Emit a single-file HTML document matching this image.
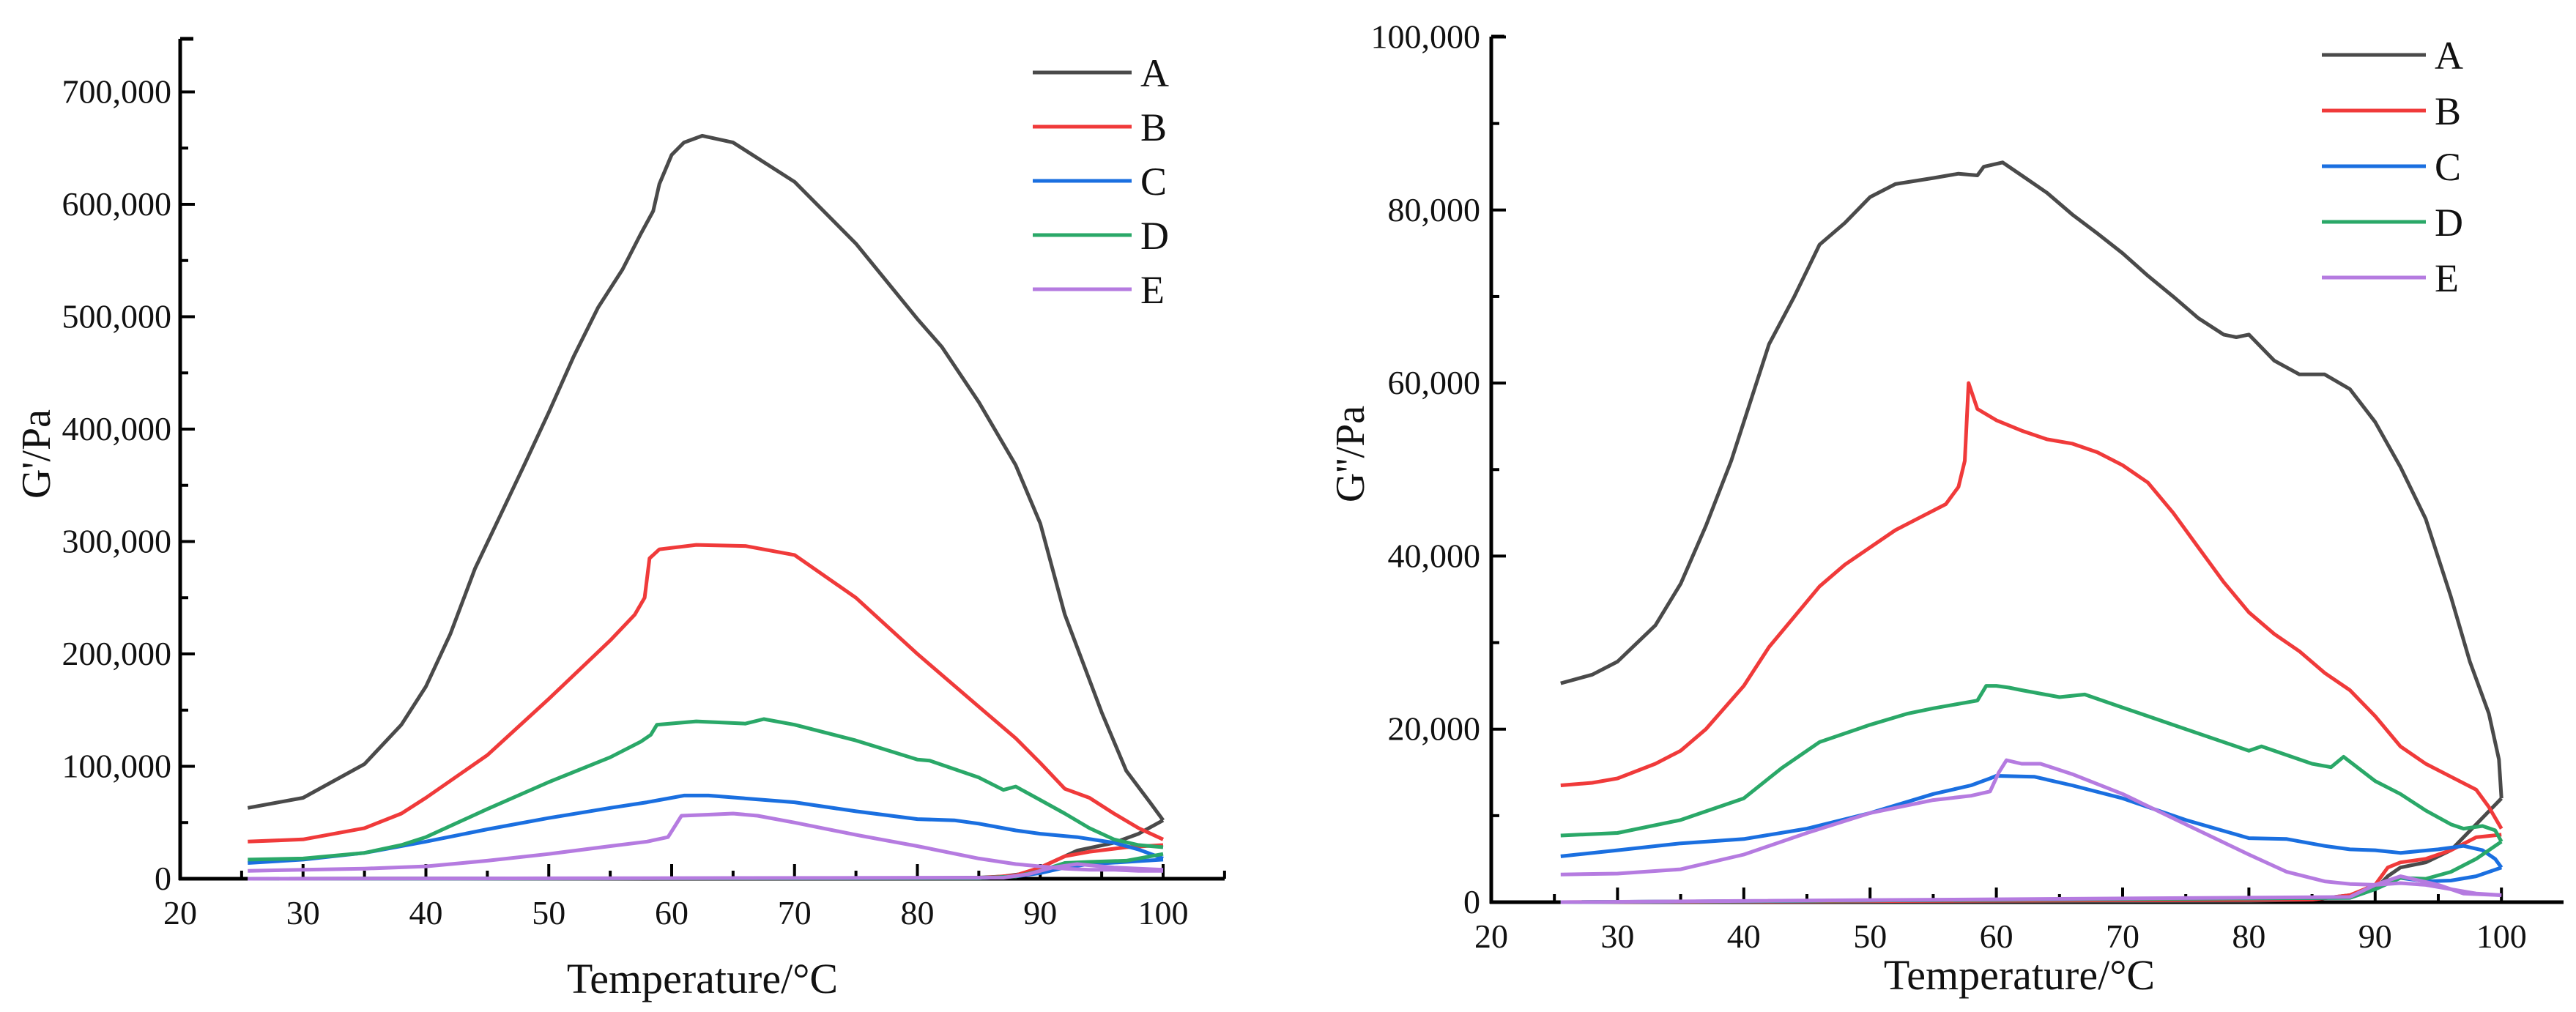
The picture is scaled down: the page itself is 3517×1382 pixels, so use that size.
<!DOCTYPE html>
<html><head><meta charset="utf-8">
<style>
html,body{margin:0;padding:0;background:#fff;}
svg{display:block;}
text{font-family:"Liberation Serif","Times New Roman",serif;fill:#111;}
</style></head>
<body>
<svg id="fig" width="3517" height="1382" viewBox="0 0 3517 1382" xmlns="http://www.w3.org/2000/svg"></svg>
<script>
// ---------- shared data ----------
const seriesNames = ["A","B","C","D","E"];
const seriesColors = ["#4a4a4a","#f03a3a","#1a6fe0","#2aa868","#b57be0"];
const xTicks = [20,30,40,50,60,70,80,90,100];

// ---------- Left chart: G' (units of 1000 Pa) ----------
const gpA_T = [25.5,30,35,38,40,42,44,46,48,50,52,54,56,57.5,58.5,59,60,61,62.5,65,70,75,80,82,85,88,90,92,95,97,99,100];
const gpA_V = [63,72,102,137,171,218,276,322,368,415,464,508,542,574,594,618,644,655,661,655,620,565,498,473,424,368,316,235,148,96,67,52];
const gpB_T = [25.5,30,35,38,40,45,50,55,57,57.8,58.2,59,62,66,70,75,80,85,88,90,92,94,96,98,100];
const gpB_V = [33,35,45,58,72,110,160,212,235,250,285,293,297,296,288,250,200,153,125,103,80,72,58,45,35];
const gpC_T = [25.5,30,35,40,45,50,55,58,59.5,61,63,70,75,80,83,85,88,90,93,96,98,100];
const gpC_V = [14,17,23,33,44,54,63,68,71,74,74,68,60,53,52,49,43,40,37,32,26,18];
const gpD_T = [25.5,30,35,38,40,45,50,55,57.5,58.3,58.8,62,66,67.5,70,75,80,81,85,87,88,90,92,94,96,98,100];
const gpD_V = [17,18,23,30,37,62,86,108,122,128,137,140,138,142,137,123,106,105,90,79,82,70,58,45,35,30,28];
const gpE_T = [25.5,30,35,40,45,50,55,58,59.7,60.8,63,65,67,70,75,80,85,88,90,92,94,96,98,100];
const gpE_V = [7,8,9,11,16,22,29,33,37,56,57,58,56,50,39,29,18,13,11,9,8,8,7,7];
// cooling branches (100 -> 25)
const gpA_cT = [100,98,96,93,91,89,87,85,80,25.5];
const gpA_cV = [52,40,32,25,15,5,2,1,0.5,0];
const gpB_cT = [100,97,94,92,90,88,85,25.5];
const gpB_cV = [30,28,24,20,10,3,0.5,0];
const gpC_cT = [100,97,94,92,90,88,85,25.5];
const gpC_cV = [17,15,13,10,5,2,0.5,0];
const gpD_cT = [100,97,94,92,90,88,85,25.5];
const gpD_cV = [22,16,15,14,7,2,0.5,0];
const gpE_cT = [100,96,93,91,89,87,25.5];
const gpE_cV = [8,10,13,10,4,1,0];
const gpYTicks = [0,100,200,300,400,500,600,700];

// ---------- Right chart: G'' (units of 1000 Pa) ----------
const gppA_T = [25.5,28,30,33,35,37,39,40,42,44,46,48,50,52,55,57,58.5,59,60.5,62,64,66,68,70,72,74,76,78,79,80,82,84,86,88,90,92,94,96,97.5,99,99.8,100];
const gppA_V = [25.3,26.3,27.8,32,36.8,43.5,51,55.5,64.5,70,76,78.5,81.5,83,83.7,84.2,84,85,85.5,84,82,79.5,77.3,75,72.4,70,67.5,65.6,65.3,65.6,62.6,61,61,59.3,55.5,50.3,44.3,35.3,27.8,21.8,16.5,12];
const gppB_T = [25.5,28,30,33,35,37,40,42,44,46,48,50,52,54,56,57,57.5,57.8,58.5,60,62,64,66,68,70,72,74,76,78,80,82,84,86,88,90,92,94,96,98,99,100];
const gppB_V = [13.5,13.8,14.3,16,17.5,20,25,29.5,33,36.5,39,41,43,44.5,46,48,51,60,57,55.7,54.5,53.5,53,52,50.5,48.5,45,41,37,33.5,31,29,26.5,24.5,21.5,18,16,14.5,13,11,8.5];
const gppC_T = [25.5,30,35,40,45,50,55,58,59.5,60,63,66,70,75,80,83,86,88,90,92,95,97,98.5,99.5,100];
const gppC_V = [5.3,6,6.8,7.3,8.5,10.3,12.5,13.5,14.3,14.6,14.5,13.5,12,9.5,7.4,7.3,6.5,6.1,6,5.7,6.1,6.5,6,5,4];
const gppD_T = [25.5,30,35,40,43,46,50,53,55,58.5,59.2,60,61,62,65,67,70,75,80,81,85,86.5,87.5,90,92,94,96,97,98.5,99.5,100];
const gppD_V = [7.7,8,9.5,12,15.5,18.5,20.5,21.8,22.4,23.3,25,25,24.8,24.5,23.7,24,22.5,20,17.5,18,16,15.6,16.8,14,12.5,10.6,9,8.5,8.8,8.3,7];
const gppE_T = [25.5,30,35,40,45,50,55,58,59.5,60.2,60.8,62,63.5,66,70,75,80,83,86,88,90,92,94,96,98,100];
const gppE_V = [3.2,3.3,3.8,5.5,8,10.3,11.8,12.3,12.8,15,16.4,16,16,14.8,12.5,9,5.5,3.5,2.4,2.1,2,2.2,2,1.5,1,0.8];
const gppA_cT = [100,98,96,94,92,91,90,88,85,80,25.5];
const gppA_cV = [12,9,6,4.6,4,3,1.5,0.8,0.3,0.15,0];
const gppB_cT = [100,98,96,94,92,91,90,88,85,25.5];
const gppB_cV = [7.8,7.5,6,5,4.6,4,2,0.8,0.3,0];
const gppC_cT = [100,98,96,94,92,90,88,25.5];
const gppC_cV = [4,3,2.5,2.4,2.8,1.5,0.5,0];
const gppD_cT = [100,98,96,94,92,90,88,25.5];
const gppD_cV = [7,5,3.5,2.7,2.8,1.5,0.5,0];
const gppE_cT = [100,97,95,92,90,88,25.5];
const gppE_cV = [0.8,1,2,3,2,0.6,0];
const gppYTicks = [0,20,40,60,80,100];

const NS = "http://www.w3.org/2000/svg";
const svg = document.getElementById("fig");
function mk(tag, attrs, parent){
  const e = document.createElementNS(NS, tag);
  for (const k in attrs) e.setAttribute(k, attrs[k]);
  (parent||svg).appendChild(e);
  return e;
}
function fmt(v){ return (v*1000).toLocaleString("en-US"); }

function chart(cfg){
  const g = mk("g", {});
  
  
  const xs = t => cfg.x0 + (t-20)/10*cfg.xStep;
  const ys = v => cfg.y0 - v/cfg.yUnit*cfg.yStep;
  // axes
  const ya = mk("line",{x1:cfg.x0,y1:cfg.yTop,x2:cfg.x0,y2:cfg.y0+2,stroke:"#000","stroke-width":5},g);
  
  
  const xa = mk("line",{x1:cfg.x0-2,y1:cfg.y0,x2:cfg.xEnd,y2:cfg.y0,stroke:"#000","stroke-width":5},g);
  
  
  mk("line",{x1:cfg.x0,y1:cfg.yTop,x2:cfg.x0+18,y2:cfg.yTop,stroke:"#000","stroke-width":5},g);
  // x ticks
  xTicks.forEach(t=>{
    const x = xs(t);
    mk("line",{x1:x,y1:cfg.y0,x2:x,y2:cfg.y0-20,stroke:"#000","stroke-width":4},g);
    const tx = mk("text",{x:x,y:cfg.xLabY,"text-anchor":"middle","font-size":46},g);
    tx.textContent = t;
    
    
    if (t<100 || cfg.xEnd > xs(104)) {
      const xm = xs(t+5);
      if (xm < cfg.xEnd) mk("line",{x1:xm,y1:cfg.y0,x2:xm,y2:cfg.y0-11,stroke:"#000","stroke-width":4},g);
    }
  });
  // y ticks
  cfg.yTicks.forEach((v,i)=>{
    const y = ys(v);
    mk("line",{x1:cfg.x0,y1:y,x2:cfg.x0+20,y2:y,stroke:"#000","stroke-width":4},g);
    const ty = mk("text",{x:cfg.yLabX,y:y+15,"text-anchor":"end","font-size":46},g);
    ty.textContent = v===0 ? "0" : fmt(v);
    
    
    const ym = ys(v+cfg.yUnit/2);
    if (ym > cfg.yTop+2) mk("line",{x1:cfg.x0,y1:ym,x2:cfg.x0+11,y2:ym,stroke:"#000","stroke-width":4},g);
  });
  // axis titles
  const xt = mk("text",{x:cfg.xTitleX,y:cfg.xTitleY,"text-anchor":"middle","font-size":58},g);
  xt.textContent = "Temperature/\u00B0C";
  
  
  const yt = mk("text",{x:0,y:0,"text-anchor":"middle","font-size":56,transform:`translate(${cfg.yTitleX},${cfg.yTitleY}) rotate(-90)`},g);
  yt.textContent = cfg.yTitle;
  
  
  // series
  cfg.series.forEach((s,i)=>{
    const path = (T,V) => T.map((t,j)=>(j?"L":"M")+xs(t).toFixed(1)+","+ys(V[j]).toFixed(1)).join(" ");
    const pc = mk("path",{d:path(s.cT,s.cV),fill:"none",stroke:seriesColors[i],"stroke-width":5,"stroke-linejoin":"round"},g);
    
    
    const ph = mk("path",{d:path(s.T,s.V),fill:"none",stroke:seriesColors[i],"stroke-width":5,"stroke-linejoin":"round"},g);
    
    
    // legend
    const ly = cfg.legY[0] + i*cfg.legDy;
    const lg = mk("g",{},g);
    
    
    mk("line",{x1:cfg.legX1,y1:ly,x2:cfg.legX2,y2:ly,stroke:seriesColors[i],"stroke-width":5},lg);
    const lt = mk("text",{x:cfg.legX2+12,y:ly+19,"font-size":54},lg);
    lt.textContent = seriesNames[i];
  });
}

chart({name:"g-prime-chart", x0:246, xStep:167.75, xEnd:1672, y0:1200, yStep:153.5, yUnit:100, yTop:53,
  yTicks:gpYTicks, xLabY:1262, yLabX:234, xTitleX:959, xTitleY:1356, yTitleX:68, yTitleY:620, yTitle:"G'/Pa",
  legX1:1410, legX2:1545, legY:[99], legDy:74,
  series:[{T:gpA_T,V:gpA_V,cT:gpA_cT,cV:gpA_cV},{T:gpB_T,V:gpB_V,cT:gpB_cT,cV:gpB_cV},{T:gpC_T,V:gpC_V,cT:gpC_cT,cV:gpC_cV},{T:gpD_T,V:gpD_V,cT:gpD_cT,cV:gpD_cV},{T:gpE_T,V:gpE_V,cT:gpE_cT,cV:gpE_cV}]});

chart({name:"g-double-prime-chart", x0:2036, xStep:172.4, xEnd:3500, y0:1232, yStep:236.3, yUnit:20, yTop:50,
  yTicks:gppYTicks, xLabY:1294, yLabX:2021, xTitleX:2757, xTitleY:1351, yTitleX:1862, yTitleY:620, yTitle:"G''/Pa",
  legX1:3170, legX2:3312, legY:[75], legDy:76,
  series:[{T:gppA_T,V:gppA_V,cT:gppA_cT,cV:gppA_cV},{T:gppB_T,V:gppB_V,cT:gppB_cT,cV:gppB_cV},{T:gppC_T,V:gppC_V,cT:gppC_cT,cV:gppC_cV},{T:gppD_T,V:gppD_V,cT:gppD_cT,cV:gppD_cV},{T:gppE_T,V:gppE_V,cT:gppE_cT,cV:gppE_cV}]});
</script>
</body></html>
